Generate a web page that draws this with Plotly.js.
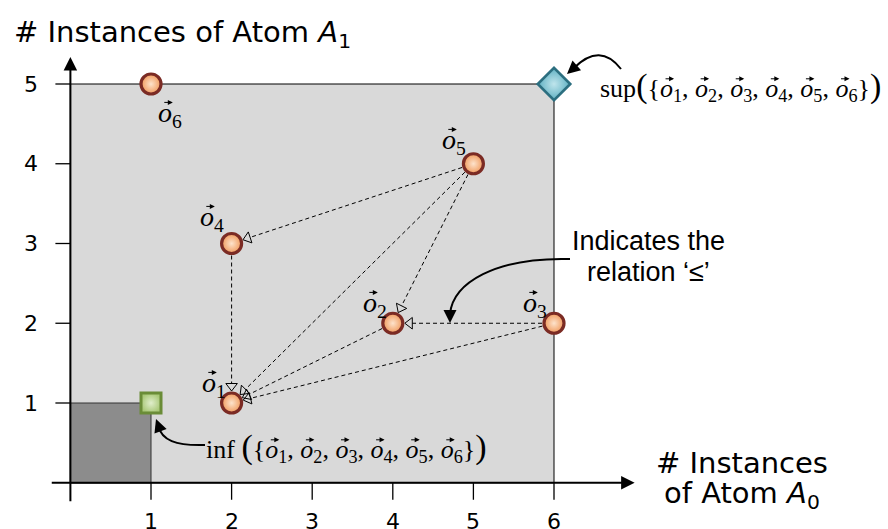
<!DOCTYPE html>
<html><head><meta charset="utf-8">
<script src="https://cdn.plot.ly/plotly-3.0.1.min.js"></script>
<style>html,body{margin:0;padding:0;background:#fff;}</style>
</head><body><div id="chart" style="width:888px;height:529px;"></div>
<script>
// ---------- data ----------
const pointIds = ['1','2','3','4','5','6'];
const pointX = [2,4,6,2,5,1];
const pointY = [1,2,2,3,4,5];
const relFrom = [5,5,5,4,2,3,3];   // edge o_from -> o_to (relation ≤)
const relTo   = [4,2,1,1,1,2,1];
const supX = [6], supY = [5];
const infX = [1], infY = [1];
const xTicks = [1,2,3,4,5,6];
const yTicks = [1,2,3,4,5];
const xTitleLines = ['# Instances', 'of Atom <i>A</i><sub>0</sub>'];
const yTitle = '# Instances of Atom <i>A</i><sub>1</sub>';
const relationLines = ['Indicates the', 'relation \u2018\u2264\u2019'];

// ---------- geometry helpers (pixel <-> data) ----------
const W=888,H=529;
const X0=70.4, SX=80.6, Y0=482.75, SY=79.75;
const xr=[-X0/SX,(W-X0)/SX], yr=[-(H-Y0)/SY, Y0/SY];
const toPx = (x,y)=>[X0+SX*x, Y0-SY*y];
const toD  = (px,py)=>[(px-X0)/SX, (Y0-py)/SY];
const dX = p=>p/SX, dY = p=>p/SY;

const SANS = 'DejaVu Sans, Arial, sans-serif';
const ARIAL = 'Liberation Sans, Arial, sans-serif';
const SERIF = 'Liberation Serif, Times New Roman, serif';
const vec = '<i>o</i>';
const setText = ids => '{' + ids.map(k=>vec+'<sub>'+k+'</sub>').join(', ') + '}';
const big = s => '<span style="font-size:34px">'+s+'</span>';

const shapes = [];
const annotations = [];
const vecAnn = new Set();

// background regions
shapes.push({type:'rect', layer:'below', xref:'x', yref:'y', x0:0, y0:0, x1:supX[0], y1:supY[0],
  fillcolor:'#d9d9d9', line:{color:'#000', width:1}});
shapes.push({type:'rect', layer:'below', xref:'x', yref:'y', x0:0, y0:0, x1:infX[0], y1:infY[0],
  fillcolor:'#8c8c8c', line:{color:'#333', width:1}});

// ticks
yTicks.forEach(k=>shapes.push({type:'line', layer:'below', xref:'x', yref:'y', x0:-dX(15), x1:0, y0:k, y1:k, line:{color:'#000', width:1.3}}));
xTicks.forEach(k=>shapes.push({type:'line', layer:'below', xref:'x', yref:'y', x0:k, x1:k, y0:0, y1:-dY(17), line:{color:'#000', width:1.3}}));

// relation edges: dashed lines + open triangle heads
const R = 12, HEAD = 10;
const headX=[], headY=[], headA=[];
relFrom.forEach((f,i)=>{
  const t = relTo[i];
  const [sx,sy] = toPx(pointX[f-1], pointY[f-1]);
  const [tx,ty] = toPx(pointX[t-1], pointY[t-1]);
  const L = Math.hypot(tx-sx, ty-sy), ux=(tx-sx)/L, uy=(ty-sy)/L;
  const tipx = tx-ux*R, tipy = ty-uy*R;
  const cx = tipx-ux*HEAD/2, cy = tipy-uy*HEAD/2;
  const ex = tipx-ux*HEAD*0.75, ey = tipy-uy*HEAD*0.75;
  const a = toD(sx+ux*R, sy+uy*R), b = toD(ex, ey), c = toD(cx, cy);
  shapes.push({type:'line', layer:'below', xref:'x', yref:'y', x0:a[0], y0:a[1], x1:b[0], y1:b[1],
    line:{color:'#000', width:1, dash:'4px,3px'}});
  headX.push(c[0]); headY.push(c[1]); headA.push(Math.atan2(ux, -uy)*180/Math.PI);
});

// axes with arrows
annotations.push({x:7.0, y:0, ax:-0.25, ay:0, axref:'x', ayref:'y', xref:'x', yref:'y', text:'',
  showarrow:true, arrowhead:2, arrowsize:1.35, arrowwidth:2, arrowcolor:'#000'});
annotations.push({x:0, y:5.34, ax:0, ay:-0.25, axref:'x', ayref:'y', xref:'x', yref:'y', text:'',
  showarrow:true, arrowhead:2, arrowsize:1.35, arrowwidth:2, arrowcolor:'#000'});

// tick labels
xTicks.forEach(k=>annotations.push({x:k, y:-dY(39), xref:'x', yref:'y', text:String(k), showarrow:false,
  font:{family:SANS, size:22, color:'#000'}}));
yTicks.forEach(k=>annotations.push({x:-dX(39), y:k, xref:'x', yref:'y', text:String(k), showarrow:false,
  font:{family:SANS, size:22, color:'#000'}}));

// axis titles
annotations.push({x:toD(12,0)[0], y:toD(0,34)[1], xref:'x', yref:'y', xanchor:'left', text:yTitle, showarrow:false,
  font:{family:SANS, size:29, color:'#000'}});
xTitleLines.forEach((s,i)=>annotations.push({x:toD(742,0)[0], y:toD(0,[463,495][i])[1], xref:'x', yref:'y',
  height:32, borderpad:0, borderwidth:0,
  text:s, showarrow:false, font:{family:SANS, size:29, color:'#000'}}));

// relation callout
relationLines.forEach((s,i)=>annotations.push({x:toD(648,0)[0], y:toD(0,[240,271][i])[1], xref:'x', yref:'y',
  height:31, borderpad:0, borderwidth:0,
  text:s, showarrow:false, font:{family:ARIAL, size:27, color:'#000'}}));

// point labels
const labelOff = {'1':[-18,23], '2':[-18,23], '3':[-19,23], '4':[-20,29], '5':[-19,26], '6':[19,-26]};
pointIds.forEach((k,i)=>{ vecAnn.add(annotations.length);
  annotations.push({x:pointX[i], y:pointY[i], xref:'x', yref:'y', borderpad:0, borderwidth:0,
  xshift:labelOff[k][0], yshift:labelOff[k][1]-4, text:vec+'<sub>'+k+'</sub>', showarrow:false,
  font:{family:SERIF, size:28, color:'#000'}}); });

// sup / inf labels
vecAnn.add(annotations.length);
annotations.push({x:toD(600,0)[0], y:supY[0], xref:'x', yref:'y', xanchor:'left', yshift:-2, borderpad:0, borderwidth:0,
  text:'sup'+big('(')+setText(pointIds)+big(')'), showarrow:false, font:{family:SERIF, size:26, color:'#000'}});
vecAnn.add(annotations.length);
annotations.push({x:toD(206,0)[0], y:toD(0,447)[1], xref:'x', yref:'y', xanchor:'left', borderpad:0, borderwidth:0,
  text:'inf '+big('(')+setText(pointIds)+big(')'), showarrow:false, font:{family:SERIF, size:26, color:'#000'}});

// curved callout arrows
const pathPx = segs => segs.map(s=>{
  const out=[s[0]];
  for(let j=1;j<s.length;j+=2){ const d=toD(s[j],s[j+1]); out.push(d[0].toFixed(4)+','+d[1].toFixed(4)); }
  return out[0]+' '+out.slice(1).join(' ');
}).join(' ');
const curve = p=>({type:'path', layer:'above', xref:'x', yref:'y', path:p, line:{color:'#000', width:2}});
shapes.push(curve(pathPx([['M',621,69],['Q',600,42,574,68]])));
shapes.push(curve(pathPx([['M',205,445],['C',175,446,162,440,158,426]])));
shapes.push(curve(pathPx([['M',570,259],['C',495,257,453,283,450,314]])));
const headAt = (px,py,ax,ay)=>{ const d=toD(px,py);
  annotations.push({x:d[0], y:d[1], xref:'x', yref:'y', ax:ax, ay:ay, text:'', showarrow:true,
    arrowhead:2, arrowsize:1.3, arrowwidth:2, arrowcolor:'#000'}); };
headAt(567,74, 8,-7);
headAt(156,419, 3,8);
headAt(450,323, 0,-9);

const traces = [
  {type:'scatter', mode:'markers', x:headX, y:headY, hoverinfo:'skip',
   marker:{symbol:'triangle-up-open', size:HEAD, angle:headA, color:'#000', line:{width:1, color:'#000'}}},
  {type:'scatter', mode:'markers', x:pointX, y:pointY, hoverinfo:'skip',
   marker:{symbol:'circle', size:20, color:'#f09a5c', gradient:{type:'radial', color:'#fde3cc'},
     line:{color:'#7b2b24', width:3.2}}},
  {type:'scatter', mode:'markers', x:supX, y:supY, hoverinfo:'skip',
   marker:{symbol:'diamond', size:25, color:'#5fb0c2', gradient:{type:'radial', color:'#bfe5ec'},
     line:{color:'#2c6f80', width:2.6}}},
  {type:'scatter', mode:'markers', x:infX, y:infY, hoverinfo:'skip',
   marker:{symbol:'square', size:20, color:'#a9c878', gradient:{type:'radial', color:'#e0eecb'},
     line:{color:'#6a8c37', width:3}}}
];

const layout = {
  width:W, height:H, margin:{l:0,r:0,t:0,b:0}, showlegend:false,
  paper_bgcolor:'#fff', plot_bgcolor:'#fff',
  xaxis:{range:xr, visible:false, fixedrange:true},
  yaxis:{range:yr, visible:false, fixedrange:true},
  shapes:shapes, annotations:annotations
};
Plotly.newPlot('chart', traces, layout, {staticPlot:true, displayModeBar:false}).then(gd=>{
  // vector arrows over every italic o: measured from the rendered text
  const extra = [];
  gd.querySelectorAll('g.annotation').forEach((g,n)=>{
    const idx = g.hasAttribute('data-index') ? +g.getAttribute('data-index') : n;
    if(!vecAnn.has(idx)) return;
    const t = g.querySelector('text.annotation-text') || g.querySelector('text');
    if(!t) return;
    const s = t.textContent, fs = annotations[idx].font.size;
    const svg = t.ownerSVGElement, M = t.getScreenCTM();
    const nc = t.getNumberOfChars();
    for(let i=0;i<nc;i++){
      if(s[i]!=='o') continue;
      const st = t.getStartPositionOfChar(i), ex = t.getExtentOfChar(i);
      const p = svg.createSVGPoint();
      p.x = st.x + ex.width/2 + 0.1*fs; p.y = st.y - 0.7*fs;
      const q = p.matrixTransform(M);
      const d = toD(q.x+5, q.y);
      extra.push({x:d[0], y:d[1], xref:'x', yref:'y', ax:-10, ay:0, text:'', showarrow:true,
        arrowhead:2, arrowsize:1, arrowwidth:1, arrowcolor:'#000'});
    }
  });
  return Plotly.relayout(gd, {annotations: annotations.concat(extra)});
});
</script></body></html>
